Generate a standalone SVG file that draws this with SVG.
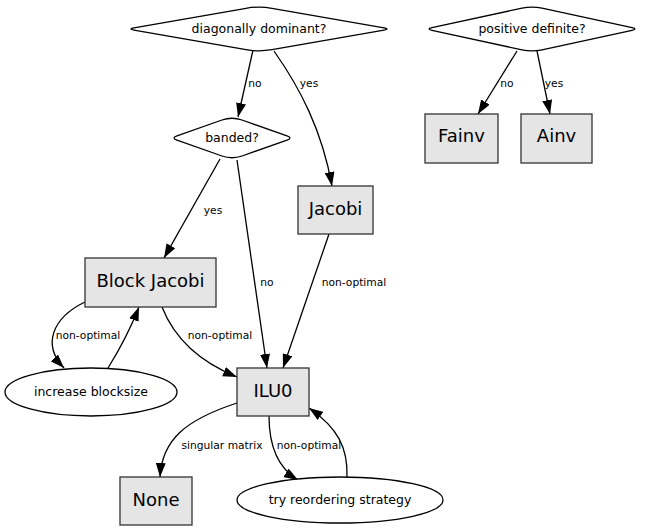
<svg xmlns="http://www.w3.org/2000/svg" width="649" height="531" viewBox="0 0 649 531">
<style>
  text { font-family: "DejaVu Sans", "Liberation Sans", sans-serif; fill: #000; text-anchor: middle; }
  .q { font-size: 12.5px; }
  .b { font-size: 18px; }
  .e { font-size: 10.7px; }
  .shape { fill: #fff; stroke: #000; stroke-width: 1.3; }
  .box { fill: #e5e5e5; stroke: #333; stroke-width: 1.3; }
  .edge { fill: none; stroke: #000; stroke-width: 1.3; marker-end: url(#arrow); }
</style>
<defs>
  <marker id="arrow" viewBox="0 0 14 10" refX="14" refY="5" markerWidth="14" markerHeight="10" markerUnits="userSpaceOnUse" orient="auto">
    <path d="M0,0 L14,5 L0,10 z" fill="#000"/>
  </marker>
</defs>
<rect width="649" height="531" fill="#fff"/>

<g id="connectors">
  <path class="edge" d="M253,50 L238,117"/>
  <path class="edge" d="M274,51 C300,88 322,130 332,186"/>
  <path class="edge" d="M517,51 L478,114"/>
  <path class="edge" d="M537,51 L550,114"/>
  <path class="edge" d="M220,159 L164,258"/>
  <path class="edge" d="M237,160 L267,368"/>
  <path class="edge" d="M329,234 L283,368"/>
  <path class="edge" d="M85,302 C52,318 42,345 64,368"/>
  <path class="edge" d="M108,368 C118,352 128,335 139,307"/>
  <path class="edge" d="M162,307 C175,340 200,362 237,377"/>
  <path class="edge" d="M237,403 C185,420 162,440 160,477"/>
  <path class="edge" d="M269,416 C269,445 278,468 298,480"/>
  <path class="edge" d="M347,477 C348,448 338,428 309,408"/>
  <text class="e" x="255" y="87">no</text>
  <text class="e" x="309" y="87">yes</text>
  <text class="e" x="507" y="87">no</text>
  <text class="e" x="554" y="87">yes</text>
  <text class="e" x="213" y="214">yes</text>
  <text class="e" x="267" y="286">no</text>
  <text class="e" x="354" y="286">non-optimal</text>
  <text class="e" x="88" y="339">non-optimal</text>
  <text class="e" x="220" y="339">non-optimal</text>
  <text class="e" x="222" y="449">singular matrix</text>
  <text class="e" x="309" y="449">non-optimal</text>
</g>

<g id="diag_dominant">
  <path class="shape" d="M246,8.28 Q259,6 272,8.28 L384,27.95 Q390,29 384,30.05 L272,49.72 Q259,52 246,49.72 L134,30.05 Q128,29 134,27.95 Z"/>
  <text class="q" x="259" y="33">diagonally dominant?</text>
</g>

<g id="pos_definite">
  <path class="shape" d="M522,8.17 Q532,6 542,8.17 L632,27.7 Q638,29 632,30.3 L542,49.83 Q532,52 522,49.83 L432,30.3 Q426,29 432,27.7 Z"/>
  <text class="q" x="532" y="33">positive definite?</text>
</g>

<g id="banded">
  <path class="shape" d="M222,120 Q232,116.5 242,120 L287,135.9 Q293,138 287,140.1 L242,156 Q232,159.5 222,156 L177,140.1 Q171,138 177,135.9 Z"/>
  <text class="q" x="232" y="142">banded?</text>
</g>

<g id="fainv">
  <rect class="box" x="425" y="114" width="73" height="49"/>
  <text class="b" x="461.5" y="142">Fainv</text>
</g>

<g id="ainv">
  <rect class="box" x="521" y="114" width="71" height="49"/>
  <text class="b" x="556.5" y="142">Ainv</text>
</g>

<g id="jacobi">
  <rect class="box" x="298" y="186" width="75" height="48"/>
  <text class="b" x="335.5" y="215">Jacobi</text>
</g>

<g id="block_jacobi">
  <rect class="box" x="85" y="258" width="131" height="49"/>
  <text class="b" x="150.5" y="287">Block Jacobi</text>
</g>

<g id="increase_blocksize">
  <ellipse class="shape" cx="91" cy="392" rx="86" ry="24"/>
  <text class="q" x="91" y="396">increase blocksize</text>
</g>

<g id="ilu0">
  <rect class="box" x="237" y="368" width="72" height="48"/>
  <text class="b" x="273" y="397">ILU0</text>
</g>

<g id="none">
  <rect class="box" x="120" y="477" width="72" height="48"/>
  <text class="b" x="156" y="506">None</text>
</g>

<g id="try_reordering">
  <ellipse class="shape" cx="340" cy="500" rx="103" ry="23"/>
  <text class="q" x="340" y="504">try reordering strategy</text>
</g>
</svg>
